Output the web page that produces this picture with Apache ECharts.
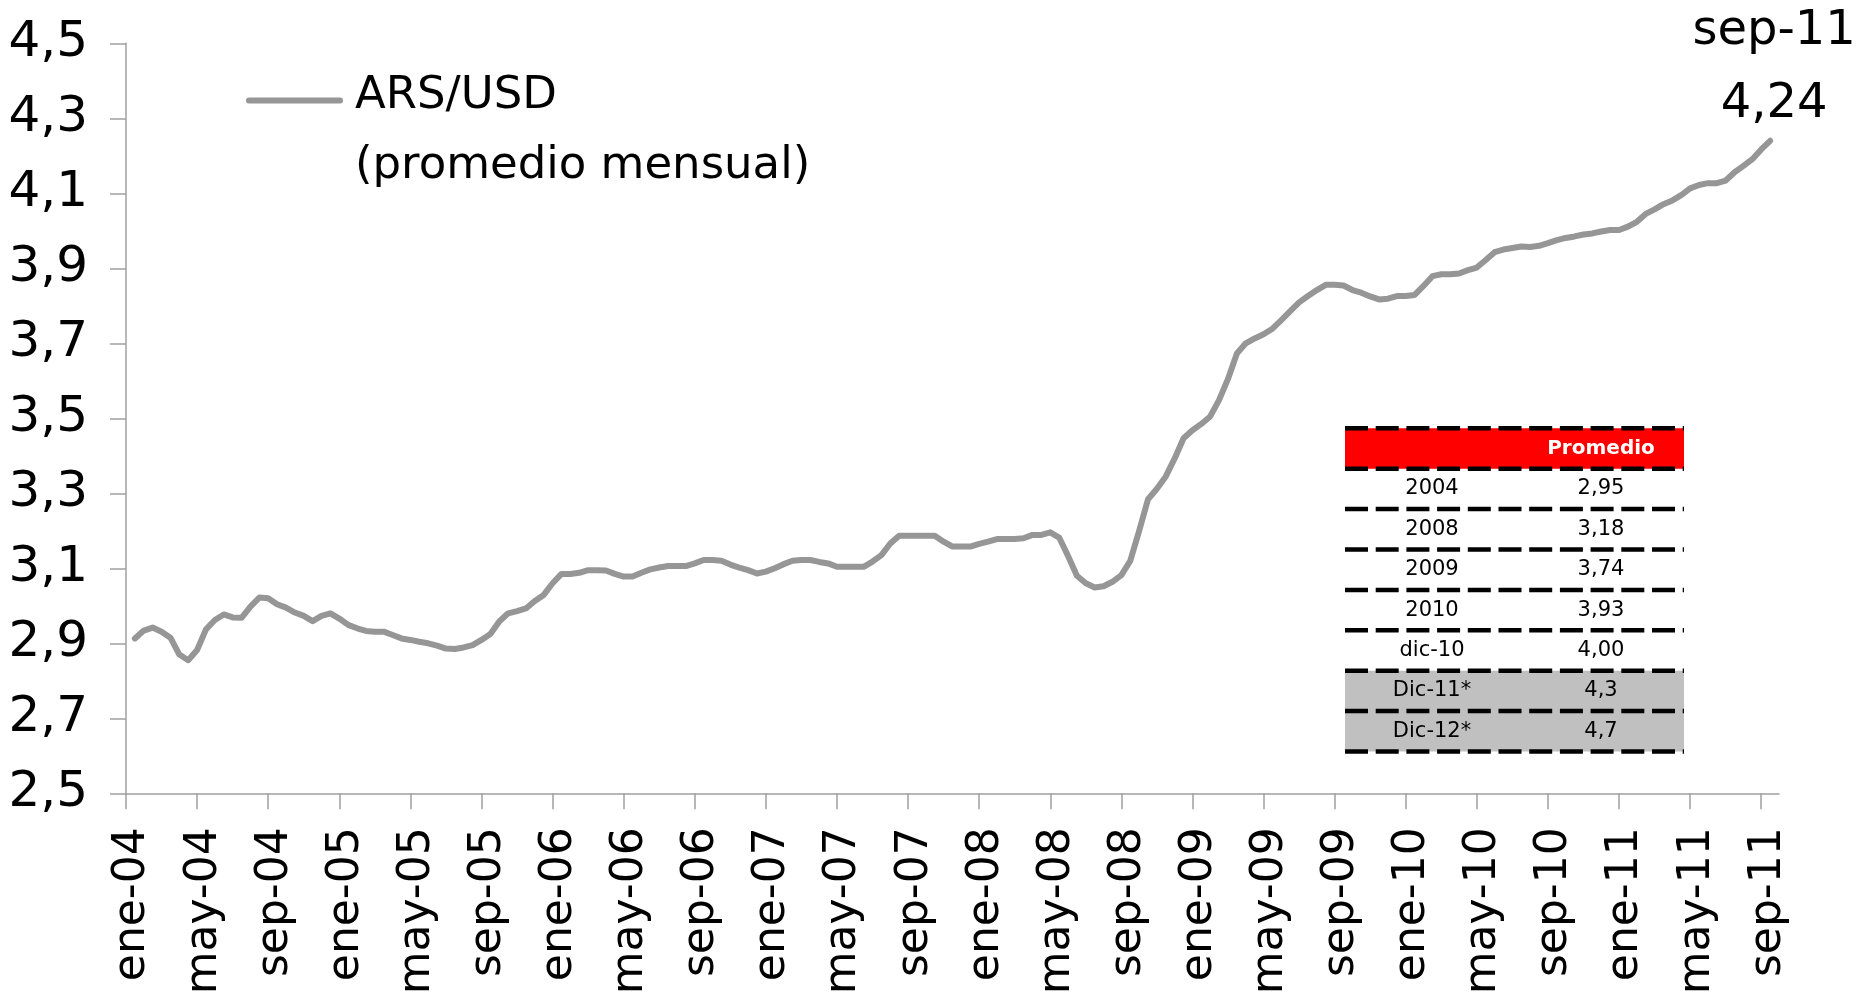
<!DOCTYPE html>
<html><head><meta charset="utf-8">
<script src="https://cdn.jsdelivr.net/npm/echarts@6/dist/echarts.min.js"></script>
<style>html,body{margin:0;padding:0;background:#fff}#c{width:1856px;height:998px}</style>
</head><body><div id="c"></div>
<script>
// ---- data ----
const monthLabels = ['ene-04','may-04','sep-04','ene-05','may-05','sep-05','ene-06','may-06','sep-06',
  'ene-07','may-07','sep-07','ene-08','may-08','sep-08','ene-09','may-09','sep-09',
  'ene-10','may-10','sep-10','ene-11','may-11','sep-11'];
const monthsPerLabel = 4;           // one label every 4 months (ene, may, sep)
const firstPointMonth = 0.5;        // first observation, in months after ene-04
const pointStepMonths = 0.5;        // semi-monthly observations
const arsUsd = [
  2.913,2.934,2.942,2.931,2.915,2.870,2.855,2.882,2.937,2.962,2.977,2.969,2.968,2.998,3.022,3.020,
  3.004,2.995,2.982,2.973,2.959,2.973,2.980,2.966,2.949,2.940,2.933,2.931,2.931,2.922,2.913,2.909,
  2.904,2.900,2.894,2.886,2.885,2.889,2.895,2.909,2.925,2.958,2.980,2.986,2.993,3.013,3.029,3.060,
  3.085,3.085,3.088,3.095,3.095,3.094,3.085,3.078,3.078,3.088,3.097,3.102,3.106,3.106,3.106,3.113,
  3.122,3.122,3.120,3.110,3.102,3.095,3.086,3.091,3.100,3.111,3.120,3.122,3.122,3.117,3.113,3.104,
  3.104,3.104,3.104,3.118,3.135,3.166,3.187,3.187,3.187,3.187,3.187,3.171,3.158,3.158,3.158,3.165,
  3.171,3.178,3.178,3.178,3.180,3.189,3.189,3.196,3.182,3.133,3.080,3.060,3.049,3.052,3.064,3.082,
  3.120,3.200,3.284,3.312,3.345,3.393,3.447,3.468,3.485,3.505,3.549,3.605,3.673,3.700,3.713,3.724,
  3.739,3.762,3.786,3.809,3.826,3.842,3.856,3.856,3.854,3.842,3.835,3.825,3.817,3.819,3.826,3.826,
  3.829,3.853,3.879,3.884,3.884,3.886,3.895,3.902,3.922,3.943,3.950,3.954,3.958,3.957,3.960,3.967,
  3.975,3.981,3.985,3.990,3.993,3.998,4.002,4.002,4.011,4.024,4.045,4.057,4.071,4.081,4.095,4.113,
  4.122,4.127,4.127,4.134,4.156,4.173,4.191,4.217,4.240
];
const yTicks = [2.5,2.7,2.9,3.1,3.3,3.5,3.7,3.9,4.1,4.3,4.5];
const seriesName = 'ARS/USD';
const seriesNote = '(promedio mensual)';
const tableHeader = ['', 'Promedio'];
const tableLabels = ['2004','2008','2009','2010','dic-10','Dic-11*','Dic-12*'];
const tableValues = ['2,95','3,18','3,74','3,93','4,00','4,3','4,7'];
const tableShaded = [false,false,false,false,false,true,true];

// ---- chart ----
const FONT = 'DejaVu Sans';
const fmt = (v, d) => v.toFixed(d).replace('.', ',');
const tickMonths = monthLabels.map((_, i) => i * monthsPerLabel);
const seriesData = arsUsd.map((v, i) => [firstPointMonth + i * pointStepMonths, v]);
const last = seriesData[seriesData.length - 1];

// table layout
const tL = 1345, tR = 1684, tTop = 428.3, rowH = 40.4, colX = [1432, 1601];
const graphics = [];
graphics.push({type:'rect', shape:{x:tL, y:tTop, width:tR-tL, height:rowH}, style:{fill:'#FF0000'}});
tableShaded.forEach((s, i) => {
  if (s) graphics.push({type:'rect', shape:{x:tL, y:tTop+(i+1)*rowH, width:tR-tL, height:rowH}, style:{fill:'#C0C0C0'}});
});
for (let r = 0; r <= tableLabels.length + 1; r++) {
  const y = tTop + r * rowH;
  graphics.push({type:'line', shape:{x1:tL, y1:y, x2:tR, y2:y}, style:{stroke:'#000', lineWidth:4.5, lineDash:[23,7.7]}});
}
tableHeader.forEach((h, c) => {
  if (h) graphics.push({type:'text', x:colX[c], y:tTop+rowH/2, style:{text:h, fill:'#fff', fontFamily:FONT, fontWeight:'bold', fontSize:20, align:'center', verticalAlign:'middle'}});
});
tableLabels.forEach((lab, i) => {
  const y = tTop + (i + 1.5) * rowH;
  graphics.push({type:'text', x:colX[0], y:y, style:{text:lab, fill:'#000', fontFamily:FONT, fontSize:21, align:'center', verticalAlign:'middle'}});
  graphics.push({type:'text', x:colX[1], y:y, style:{text:tableValues[i], fill:'#000', fontFamily:FONT, fontSize:21, align:'center', verticalAlign:'middle'}});
});
// legend
graphics.push({type:'line', shape:{x1:249, y1:100.5, x2:340, y2:100.5}, style:{stroke:'#969696', lineWidth:6, lineCap:'round'}});
graphics.push({type:'text', x:355, y:96, style:{text:seriesName, fill:'#000', fontFamily:FONT, fontSize:45, align:'left', verticalAlign:'middle'}});
graphics.push({type:'text', x:355, y:166, style:{text:seriesNote, fill:'#000', fontFamily:FONT, fontSize:45, align:'left', verticalAlign:'middle'}});

const chart = echarts.init(document.getElementById('c'), null, {renderer:'canvas'});
chart.setOption({
  animation:false,
  backgroundColor:'#fff',
  grid:{left:126, right:77, top:43.3, bottom:204.7, containLabel:false, outerBoundsMode:'none'},
  xAxis:{
    type:'value', min:0, max:monthLabels.length * monthsPerLabel - 3,
    splitLine:{show:false},
    axisLine:{show:true, lineStyle:{color:'#A0A0A0', width:1.5}},
    axisTick:{show:true, length:16, customValues:tickMonths, lineStyle:{color:'#A0A0A0', width:1.5}},
    axisLabel:{show:true, rotate:90, margin:34, customValues:tickMonths, verticalAlign:'top', lineHeight:14,
      fontFamily:FONT, fontSize:44, color:'#000',
      formatter:(v) => monthLabels[Math.round(v / monthsPerLabel)] || ''}
  },
  yAxis:{
    type:'value', min:yTicks[0], max:yTicks[yTicks.length-1],
    splitLine:{show:false},
    axisLine:{show:true, lineStyle:{color:'#A0A0A0', width:1.5}},
    axisTick:{show:true, length:16, customValues:yTicks, lineStyle:{color:'#A0A0A0', width:1.5}},
    axisLabel:{show:true, margin:38, customValues:yTicks, fontFamily:FONT, fontSize:50, color:'#000',
      formatter:(v) => fmt(v, 1)}
  },
  series:[{
    name:seriesName, type:'line', data:seriesData, showSymbol:false, symbol:'none', clip:false,
    lineStyle:{color:'#969696', width:6, cap:'round', join:'round'},
    markPoint:{
      symbol:'circle', symbolSize:0,
      data:[{coord:last}],
      label:{show:true, position:'top', distance:0, offset:[4,0], fontFamily:FONT, fontSize:48, color:'#000', lineHeight:73,
        formatter:() => monthLabels[monthLabels.length-1] + '\n' + fmt(last[1], 2)}
    }
  }],
  graphic:graphics
});
</script></body></html>
